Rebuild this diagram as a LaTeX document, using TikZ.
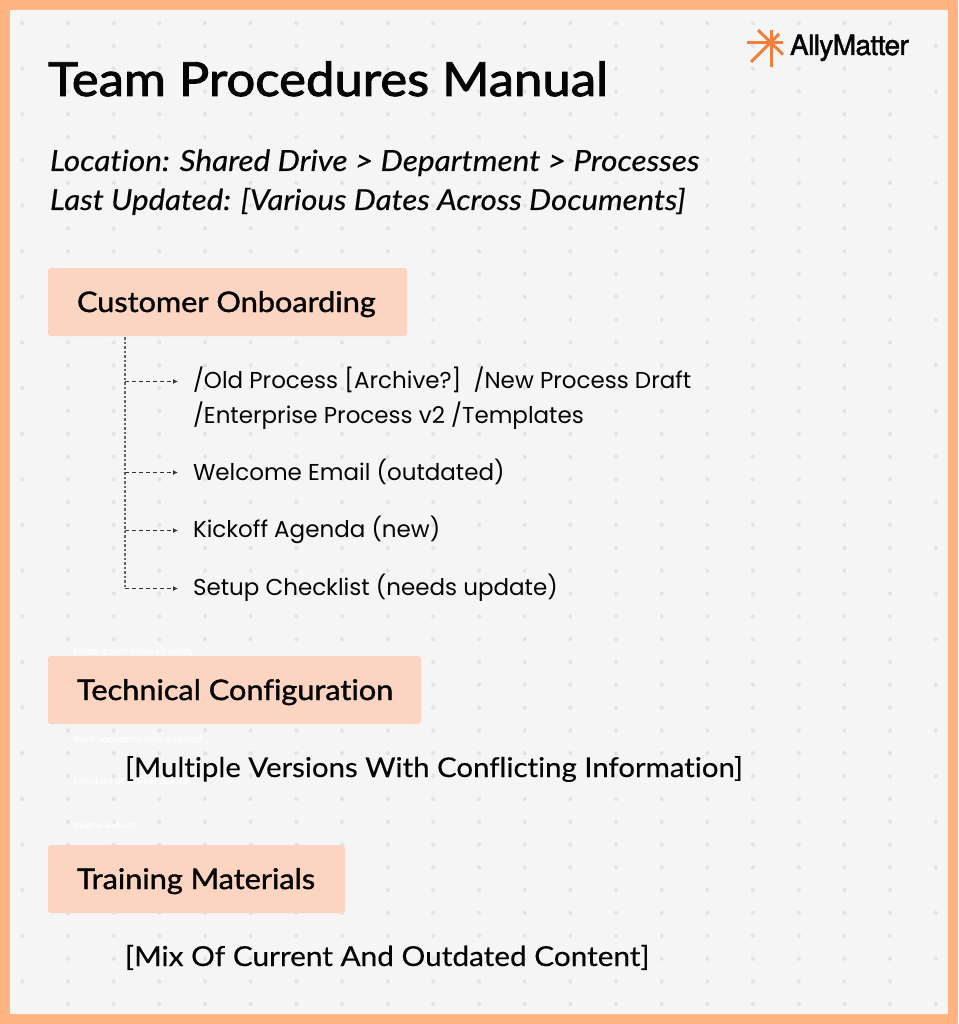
\documentclass[tikz,border=0pt]{standalone}
\usepackage{fontspec}
\usetikzlibrary{arrows.meta}
\setmainfont{Lato}
\newfontfamily\pop{Poppins}
\newfontfamily\heros{TeX Gyre Heros}[FakeBold=1.6,LetterSpace=-2]
\newfontfamily\latomed{Lato}[FakeBold=0.35,FakeStretch=1.08,Ligatures={NoCommon}]
\newfontfamily\latosemi{Lato}[FakeBold=1.3,FakeStretch=1.08,Ligatures={NoCommon}]
\newfontfamily\latoheavy{Lato}[FakeBold=2,FakeStretch=1.08,Ligatures={NoCommon}]
\definecolor{frameC}{HTML}{FFB482}
\definecolor{paperC}{HTML}{F5F5F5}
\definecolor{dotC}{HTML}{E4E4E4}
\definecolor{boxC}{HTML}{FBD5C1}
\definecolor{inkC}{HTML}{050505}
\definecolor{starC}{HTML}{F07F3C}
\tikzset{
  x=1pt,y=-1pt,
  label/.style={anchor=base west,inner sep=0pt,outer sep=0pt,text=inkC},
  title/.style={label,font=\latoheavy\fontsize{47.1}{48}\selectfont},
  meta/.style={label,font=\latomed\itshape\fontsize{29.2}{30}\selectfont},
  head/.style={label,font=\latosemi\fontsize{28.4}{29}\selectfont},
  note/.style={label,font=\latomed\fontsize{27.2}{28}\selectfont},
  item/.style={label,font=\pop\fontsize{23}{23}\selectfont},
  ghost/.style={anchor=base west,inner sep=0pt,text=white,font=\latomed\fontsize{9.3}{10}\selectfont},
  band/.style={fill=boxC,rounded corners=3pt,draw=none},
  spine/.style={draw=black!60,line width=2pt,dash pattern=on 2.5pt off 2pt},
  branch/.style={draw=black!80,line width=1.1pt,dash pattern=on 4pt off 3pt,-{Latex[length=5pt,width=5pt]},shorten >=1pt},
  ray/.style={draw=starC,line width=3pt}
}
\begin{document}
\begin{tikzpicture}
\useasboundingbox (0,0) rectangle (958,1024);
\fill[frameC] (0,0) rectangle (958,1024);
\fill[paperC] (10,10) rectangle (948,1014);
\foreach \k in {0,...,43}{
  \pgfmathsetmacro{\yy}{23+22.82*\k}
  \pgfmathsetmacro{\xs}{isodd(\k)?68:22.3}
  \foreach \m in {0,...,19}{
    \pgfmathsetmacro{\xx}{\xs+45.67*\m}
    \ifdim\xx pt<945pt \ifdim\xx pt>14pt \fill[dotC] (\xx,\yy) circle (2.2pt);\fi\fi
  }
}
% logo
\coordinate (starN) at (771,30);\coordinate (starS) at (771,67);
\coordinate (starW) at (747,42.5);\coordinate (starE) at (783,42.5);
\coordinate (starNW) at (758,30);\coordinate (starSE) at (783,54.5);
\coordinate (starSW) at (751,62);\coordinate (starNE) at (779,34);
\draw[ray] (starN)--(starS);\draw[ray] (starW)--(starE);
\draw[ray] (starNW)--(starSE);\draw[ray] (starSW)--(starNE);
\node[label,font=\heros\fontsize{28}{28}\selectfont] (logo) at (790,55) {AllyMatter};
% header
\node[title] (ttl) at (48,96) {Team Procedures Manual};
\node[meta] (loc) at (50,171) {Location: Shared Drive > Department > Processes};
\node[meta,font=\latomed\itshape\fontsize{28.9}{30}\selectfont] (upd) at (50,210) {Last Updated: [Various Dates Across Documents]};
% bands
\fill[band] (48,268) rectangle (407,336);
\fill[band] (48,656) rectangle (421,724);
\fill[band] (48,845) rectangle (345,913);
% ghost text
\node[ghost] (g1) at (73,654) {lorem ipsum dolor sit amet,};
\node[ghost] (g2) at (73,742) {diam nonummy nibh euismod};
\node[ghost] (g3) at (73,784) {tincidunt ut laoreet dolore};
\node[ghost] (g4) at (73,828) {magna aliquam};
\node[head] (h1) at (77,312) {Customer Onboarding};
\node[head] (h2) at (77,700) {Technical Configuration};
\node[head] (h3) at (77,889) {Training Materials};
% items
\node[item] (i1) at (193,388) {/Old Process [Archive?]\hspace{4pt} /New Process Draft};
\node[item] (i1b) at (193,423) {/Enterprise Process v2 /Templates};
\node[item] (i2) at (193,480) {Welcome Email (outdated)};
\node[item] (i3) at (193,537) {Kickoff Agenda (new)};
\node[item] (i4) at (193,595) {Setup Checklist (needs update)};
\node[note] (n2) at (125,777) {[Multiple Versions With Conflicting Information]};
\node[note,font=\latomed\fontsize{27.55}{28}\selectfont] (n3) at (125,966) {[Mix Of Current And Outdated Content]};
% connectors
\coordinate (s0) at (124.5,337);
\coordinate (s1) at (124.5,381.5);
\coordinate (s2) at (124.5,472.5);
\coordinate (s3) at (124.5,530.5);
\coordinate (s4) at (124.5,588.5);
\coordinate (t1) at (179,381.5);
\coordinate (t2) at (179,472.5);
\coordinate (t3) at (179,530.5);
\coordinate (t4) at (179,588.5);
\draw[spine] (s0)--(s4);
\draw[branch] (s1)--(t1);
\draw[branch] (s2)--(t2);
\draw[branch] (s3)--(t3);
\draw[branch] (s4)--(t4);
\end{tikzpicture}
\end{document}
